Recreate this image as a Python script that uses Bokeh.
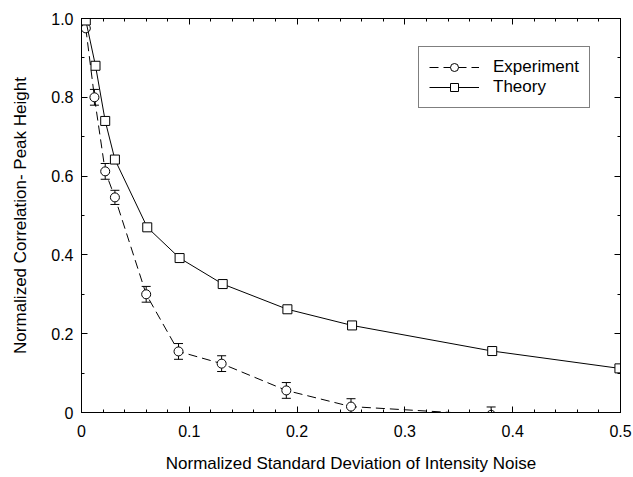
from bokeh.plotting import figure
from bokeh.models import (Range1d, FixedTicker, LinearAxis, Whisker, TeeHead,
                          ColumnDataSource, Legend, LegendItem)
from bokeh.embed import file_html
from bokeh.resources import INLINE

# ---- data ----
theory_x = [0.004, 0.013, 0.022, 0.031, 0.061, 0.091, 0.131, 0.191, 0.251, 0.381, 0.499]
theory_y = [0.995, 0.88, 0.74, 0.642, 0.47, 0.392, 0.326, 0.262, 0.221, 0.156, 0.112]

exp_x = [0.004, 0.012, 0.022, 0.031, 0.06, 0.09, 0.13, 0.19, 0.25, 0.38]
exp_y = [0.975, 0.80, 0.612, 0.546, 0.30, 0.155, 0.124, 0.056, 0.015, -0.006]
exp_err = [0.0, 0.02, 0.02, 0.018, 0.02, 0.02, 0.02, 0.02, 0.02, 0.02]

x_ticks = [0, 0.1, 0.2, 0.3, 0.4, 0.5]
x_tick_labels = ["0", "0.1", "0.2", "0.3", "0.4", "0.5"]
x_minor = [round(i * 0.02, 2) for i in range(26)]
y_ticks = [0, 0.2, 0.4, 0.6, 0.8, 1.0]
y_tick_labels = ["0", "0.2", "0.4", "0.6", "0.8", "1.0"]
y_minor = [round(i * 0.1, 1) for i in range(11)]

FONT = "Liberation Sans"

p = figure(width=633, height=477, output_backend="svg", toolbar_location=None,
           x_range=Range1d(0, 0.5), y_range=Range1d(0, 1.0),
           min_border_left=81, min_border_right=13, min_border_top=18,
           min_border_bottom=65)
p.background_fill_color = "white"
p.border_fill_color = "white"
p.outline_line_color = "black"
p.outline_line_width = 1
p.xgrid.visible = False
p.ygrid.visible = False

def style_axis(ax, ticks, labels, minor, show_labels=True):
    ax.ticker = FixedTicker(ticks=ticks, minor_ticks=minor)
    if show_labels:
        ax.major_label_overrides = {t: l for t, l in zip(ticks, labels)}
    else:
        ax.major_label_overrides = {t: "" for t in ticks}
        ax.major_label_standoff = 0
    ax.major_tick_in = 6
    ax.major_tick_out = 0
    ax.minor_tick_in = 3
    ax.minor_tick_out = 0
    ax.axis_line_color = "black"
    ax.major_tick_line_color = "black"
    ax.minor_tick_line_color = "black"
    ax.major_label_text_font = FONT
    ax.major_label_text_font_size = "16px"
    ax.major_label_text_color = "black"
    ax.axis_label_text_color = "black"

xa = p.xaxis[0]
style_axis(xa, x_ticks, x_tick_labels, x_minor)
xa.major_label_standoff = 12
xa.axis_label = "Normalized Standard Deviation of Intensity Noise"
xa.axis_label_text_font = FONT
xa.axis_label_text_font_size = "17px"
xa.axis_label_text_font_style = "normal"
xa.axis_label_standoff = 14

ya = p.yaxis[0]
style_axis(ya, y_ticks, y_tick_labels, y_minor)
ya.major_label_standoff = 8
ya.axis_label = "Normalized Correlation- Peak Height"
ya.axis_label_text_font = FONT
ya.axis_label_text_font_size = "17px"
ya.axis_label_text_font_style = "normal"
ya.axis_label_standoff = 18

top = LinearAxis()
style_axis(top, x_ticks, x_tick_labels, x_minor, show_labels=False)
p.add_layout(top, "above")
right = LinearAxis()
style_axis(right, y_ticks, y_tick_labels, y_minor, show_labels=False)
p.add_layout(right, "right")

# ---- error bars ----
lower = [y - e for y, e in zip(exp_y, exp_err)]
upper = [y + e for y, e in zip(exp_y, exp_err)]
err_src = ColumnDataSource(dict(x=exp_x, lower=lower, upper=upper))
wh = Whisker(base="x", lower="lower", upper="upper", source=err_src,
             line_color="black", line_width=1,
             upper_head=TeeHead(size=9, line_color="black", line_width=1),
             lower_head=TeeHead(size=9, line_color="black", line_width=1))
p.add_layout(wh)

# ---- series ----
exp_line = p.line(exp_x, exp_y, line_color="black", line_width=1, line_dash="9 5")
exp_pts = p.scatter(exp_x, exp_y, marker="circle", size=9, fill_color="white",
                    line_color="black", line_width=1)
th_line = p.line(theory_x, theory_y, line_color="black", line_width=1)
th_pts = p.scatter(theory_x, theory_y, marker="square", size=9, fill_color="white",
                   line_color="black", line_width=1)

legend = Legend(items=[
    LegendItem(label="Experiment", renderers=[exp_line, exp_pts]),
    LegendItem(label="Theory", renderers=[th_line, th_pts]),
], location=(337, 304))
legend.label_text_font = FONT
legend.label_text_font_size = "17px"
legend.label_text_color = "black"
legend.border_line_color = "black"
legend.border_line_width = 1
legend.glyph_width = 50
legend.glyph_height = 20
legend.spacing = 0
legend.padding = 10
legend.margin = 0
legend.label_standoff = 14
legend.label_height = 20
p.add_layout(legend)

open("out.html", "w").write(file_html(p, INLINE))
